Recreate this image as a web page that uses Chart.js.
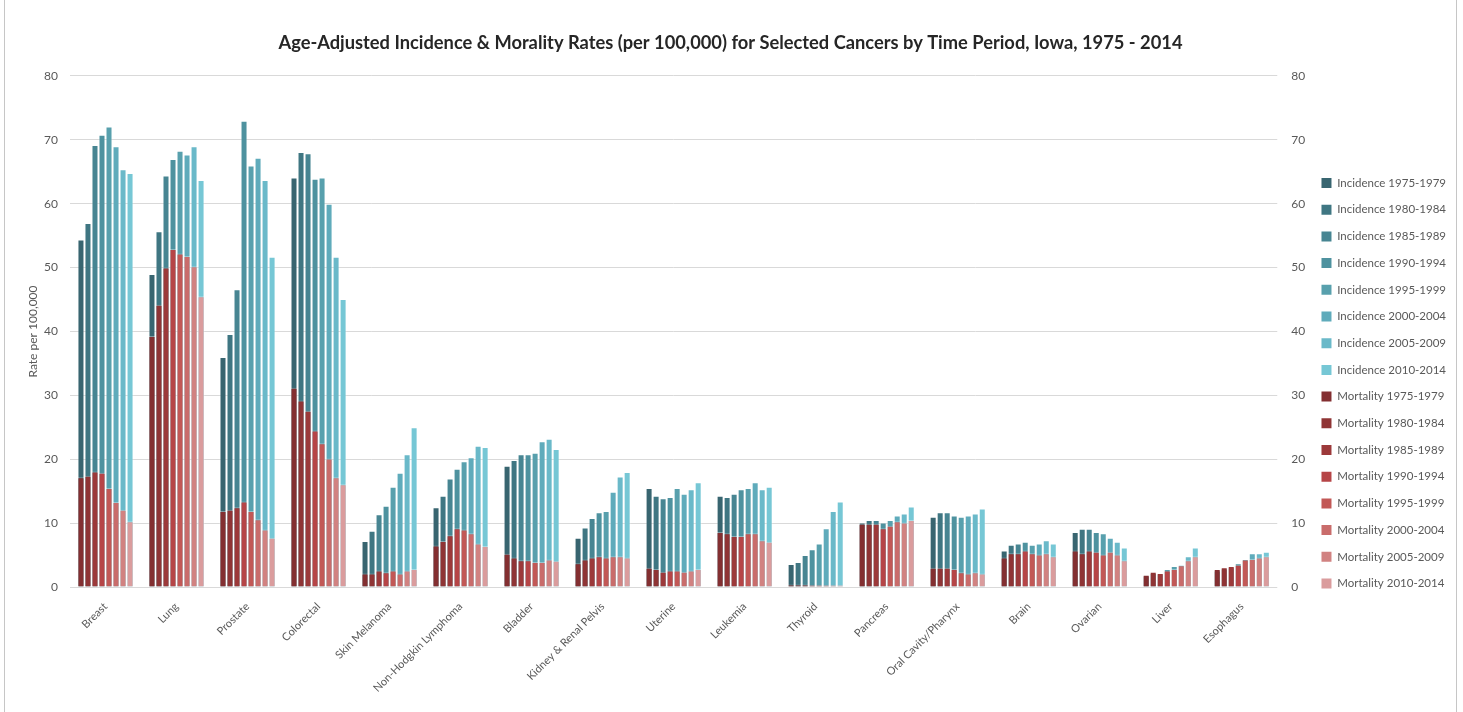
<!DOCTYPE html>
<html>
<head>
<meta charset="utf-8">
<script src="https://cdn.jsdelivr.net/npm/chart.js@4"></script>
<style>
  html, body { margin: 0; padding: 0; background: #fff; }
  #c { display: block; }
</style>
</head>
<body>
<canvas id="c" width="1463" height="712"></canvas>
<script>
// Cancer sites along the x axis
const categories = ['Breast', 'Lung', 'Prostate', 'Colorectal', 'Skin Melanoma', 'Non-Hodgkin Lymphoma', 'Bladder',
  'Kidney & Renal Pelvis', 'Uterine', 'Leukemia', 'Thyroid', 'Pancreas', 'Oral Cavity/Pharynx', 'Brain', 'Ovarian',
  'Liver', 'Esophagus'];

const periods = ['1975-1979', '1980-1984', '1985-1989', '1990-1994', '1995-1999', '2000-2004', '2005-2009', '2010-2014'];

// Age-adjusted incidence per 100,000, one array per period (same order as categories)
const inc7579 = [54.4, 49.0, 36.0, 64.1, 7.2, 12.5, 19.0, 7.7, 15.5, 14.3, 3.6, 10.1, 11.0, 5.7, 8.6, 1.8, 2.6];
const inc8084 = [57.0, 55.7, 39.6, 68.1, 8.8, 14.3, 19.9, 9.3, 14.3, 14.1, 3.9, 10.5, 11.7, 6.6, 9.1, 2.2, 2.9];
const inc8589 = [69.2, 64.4, 46.6, 67.9, 11.4, 17.0, 20.8, 10.8, 13.9, 14.6, 5.0, 10.5, 11.7, 6.8, 9.1, 2.1, 3.1];
const inc9094 = [70.8, 67.0, 73.0, 63.9, 12.7, 18.5, 20.8, 11.7, 14.1, 15.3, 5.9, 10.1, 11.2, 7.1, 8.6, 2.8, 3.7];
const inc9599 = [72.1, 68.3, 66.0, 64.1, 15.7, 19.7, 21.0, 11.9, 15.5, 15.5, 6.8, 10.5, 11.0, 6.6, 8.4, 3.3, 4.4];
const inc0004 = [69.0, 67.7, 67.2, 60.0, 17.9, 20.3, 22.8, 14.9, 14.6, 16.4, 9.2, 11.2, 11.2, 6.8, 7.7, 3.5, 5.3];
const inc0509 = [65.4, 69.0, 63.7, 51.7, 20.8, 22.1, 23.2, 17.3, 15.3, 15.3, 11.9, 11.5, 11.5, 7.3, 7.1, 4.8, 5.3];
const inc1014 = [64.8, 63.7, 51.7, 45.1, 25.0, 21.9, 21.6, 18.0, 16.4, 15.7, 13.4, 12.6, 12.3, 6.8, 6.2, 6.2, 5.5];

// Age-adjusted mortality per 100,000, one array per period
const mort7579 = [17.2, 39.3, 11.9, 31.2, 2.1, 6.5, 5.2, 3.7, 3.0, 8.6, 0.4, 9.9, 3.0, 4.6, 5.7, 1.9, 2.8];
const mort8084 = [17.4, 44.2, 12.1, 29.2, 2.1, 7.2, 4.6, 4.3, 2.8, 8.4, 0.4, 9.9, 3.0, 5.3, 5.3, 2.4, 3.1];
const mort8589 = [18.1, 50.0, 12.5, 27.6, 2.6, 8.1, 4.2, 4.6, 2.4, 8.0, 0.4, 9.9, 3.0, 5.3, 5.7, 2.2, 3.3];
const mort9094 = [17.9, 52.9, 13.4, 24.5, 2.3, 9.2, 4.2, 4.8, 2.6, 8.0, 0.3, 9.2, 2.8, 5.7, 5.5, 2.6, 3.5];
const mort9599 = [15.5, 52.2, 11.9, 22.5, 2.6, 9.0, 3.9, 4.6, 2.6, 8.4, 0.3, 9.6, 2.3, 5.3, 5.1, 2.8, 4.3];
const mort0004 = [13.3, 51.8, 10.6, 20.1, 2.1, 8.4, 3.9, 4.8, 2.4, 8.4, 0.3, 10.3, 2.1, 5.1, 5.5, 3.4, 4.4];
const mort0509 = [12.1, 50.2, 9.0, 17.2, 2.6, 6.8, 4.3, 4.8, 2.6, 7.3, 0.3, 10.1, 2.3, 5.3, 5.1, 4.2, 4.6];
const mort1014 = [10.3, 45.5, 7.7, 16.1, 2.8, 6.4, 4.1, 4.6, 2.8, 7.1, 0.3, 10.5, 2.1, 4.8, 4.2, 4.8, 4.8];

// Axis tick values (both sides)
const yTicks = [0, 10, 20, 30, 40, 50, 60, 70, 80];

const incidenceSeries = [inc7579, inc8084, inc8589, inc9094, inc9599, inc0004, inc0509, inc1014];
const mortalitySeries = [mort7579, mort8084, mort8589, mort9094, mort9599, mort0004, mort0509, mort1014];

const incColors = ['#386570', '#3f7682', '#478592', '#4e929f', '#58a0ad', '#5fabbb', '#6ab9c9', '#76c7d5'];
const mortColors = ['#832f31', '#8f3435', '#9c393a', '#b64547', '#c25856', '#c96c6b', '#d18281', '#da9c9d'];

const FONT = 'Lato, "Open Sans", sans-serif';
const GREY = '#595959';

const barCommon = {
  categoryPercentage: 0.79,
  barPercentage: 1.0,
  borderWidth: 1,
  borderColor: 'rgba(255,255,255,0.35)',
  borderSkipped: 'bottom'
};

// Incidence and mortality of the same period share one slot (same stack id);
// the value axis is not stacked, so the mortality bar simply sits in front.
const datasets = [];
incidenceSeries.forEach((vals, i) => {
  datasets.push(Object.assign({
    label: 'Incidence ' + periods[i],
    data: vals,
    backgroundColor: incColors[i],
    stack: 'p' + i,
    order: 1
  }, barCommon));
});
mortalitySeries.forEach((vals, i) => {
  datasets.push(Object.assign({
    label: 'Mortality ' + periods[i],
    data: vals,
    backgroundColor: mortColors[i],
    stack: 'p' + i,
    order: 0
  }, barCommon));
});

// Thin outer frame around the figure
const framePlugin = {
  id: 'frame',
  beforeDraw(chart) {
    const ctx = chart.ctx;
    ctx.save();
    ctx.fillStyle = '#ffffff';
    ctx.fillRect(0, 0, chart.width, chart.height);
    ctx.strokeStyle = '#c6c6c6';
    ctx.lineWidth = 1;
    ctx.beginPath();
    ctx.moveTo(4.5, 0); ctx.lineTo(4.5, chart.height);
    ctx.moveTo(1456.5, 0); ctx.lineTo(1456.5, chart.height);
    ctx.stroke();
    ctx.restore();
  }
};

const tickFont = { family: FONT, size: 12 };
const PAD = { top: 20, left: 5, right: 7, bottom: 20 };

new Chart(document.getElementById('c'), {
  type: 'bar',
  data: { labels: categories, datasets: datasets },
  plugins: [framePlugin],
  options: {
    responsive: false,
    animation: false,
    layout: { padding: PAD },
    scales: {
      x: {
        type: 'category',
        stacked: true,
        offset: true,
        grid: { display: false },
        border: { display: false },
        ticks: { color: GREY, font: { family: FONT, size: 11 }, minRotation: 45, maxRotation: 45, autoSkip: false, padding: 5 },
        afterFit: (s) => { s.height = 125 - PAD.bottom; }
      },
      y: {
        position: 'left',
        stacked: false,
        min: 0, max: 80,
        afterBuildTicks: (s) => { s.ticks = yTicks.map(v => ({ value: v })); },
        grid: { color: '#d9d9d9', lineWidth: 1, drawTicks: false },
        border: { display: false },
        ticks: { color: GREY, font: tickFont, padding: 12 },
        title: { display: true, text: 'Rate per 100,000', color: GREY, font: tickFont, padding: { top: 21, bottom: -21 } },
        afterFit: (s) => { s.width = 70 - PAD.left; }
      },
      y2: {
        position: 'right',
        min: 0, max: 80,
        afterBuildTicks: (s) => { s.ticks = yTicks.map(v => ({ value: v })); },
        grid: { display: false, drawTicks: false },
        border: { display: false },
        ticks: { color: GREY, font: tickFont, padding: 14 },
        afterFit: (s) => { s.width = 29; }
      }
    },
    plugins: {
      title: {
        display: true,
        text: 'Age-Adjusted Incidence & Morality Rates (per 100,000) for Selected Cancers by Time Period, Iowa, 1975 - 2014',
        color: '#262626',
        font: { family: FONT, size: 18.3, weight: 'bold' },
        padding: { top: 12, bottom: 22 }
      },
      legend: {
        position: 'right',
        align: 'center',
        title: { display: true, text: '', font: { family: FONT, size: 11.5 }, padding: { top: 40.7, bottom: 0 } },
        labels: {
          color: GREY,
          font: { family: FONT, size: 11.5 },
          boxWidth: 10,
          boxHeight: 10,
          padding: 15.2,
          sort: (a, b) => a.datasetIndex - b.datasetIndex,
          generateLabels: (chart) => Chart.defaults.plugins.legend.labels.generateLabels(chart)
            .map(item => Object.assign(item, { strokeStyle: item.fillStyle, lineWidth: 0 }))
        }
      },
      tooltip: { enabled: false }
    }
  }
});
</script>
</body>
</html>
